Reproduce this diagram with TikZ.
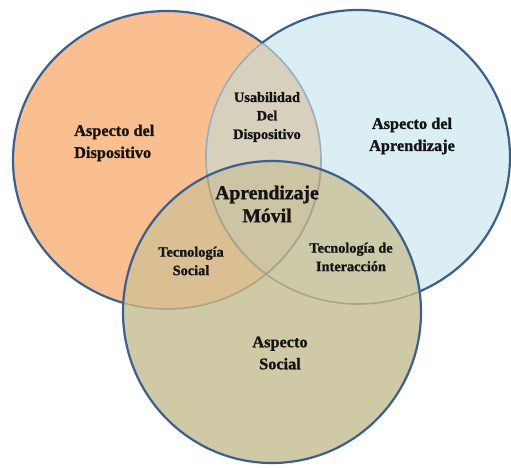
\documentclass[tikz,border=0pt]{standalone}
\usepackage{fontspec}
\setmainfont{Liberation Serif}[BoldFeatures={FakeBold=1.2}]
\definecolor{orng}{HTML}{F9BF90}
\definecolor{lblue}{HTML}{DAEEF3}
\definecolor{tanc}{HTML}{CFC9A6}
\definecolor{lrc}{HTML}{D6D0BD}
\definecolor{lbc}{HTML}{D9BF91}
\definecolor{rbc}{HTML}{CDCAAA}
\definecolor{lrbc}{HTML}{CCC4A3}
\definecolor{edgec}{HTML}{3B5F8E}
\definecolor{edgeblue}{HTML}{98AEBE}
\definecolor{edgetan}{HTML}{ADA385}
\definecolor{txt}{HTML}{141414}
\begin{document}
\begin{tikzpicture}[x=1pt,y=-1pt,
  dark/.style={draw=edgec,line width=2.2pt},
  inner1/.style={draw=edgeblue,line width=1.6pt},
  inner2/.style={draw=edgetan,line width=1.6pt},
  lbl/.style={font=\bfseries\fontsize{16.3}{22}\selectfont,inner sep=0pt,text=txt},
  small/.style={font=\bfseries\fontsize{14.3}{18.5}\selectfont,inner sep=0pt,text=txt,align=center},
  big/.style={font=\bfseries\fontsize{19.7}{23}\selectfont,inner sep=0pt,text=txt,align=center}]
\useasboundingbox (0,0) rectangle (511,467);
\def\Lpath{(167,160) ellipse [x radius=154pt, y radius=149pt]}
\def\Rpath{(358,157) ellipse [x radius=152pt, y radius=147pt]}
\def\Bpath{(272,312) ellipse [x radius=149pt, y radius=151pt]}
\def\Outer{(-50,-50) -- (600,-50) -- (600,550) -- (-50,550) -- cycle}
% fills
\fill[orng] \Lpath;
\fill[lblue] \Rpath;
\fill[tanc] \Bpath;
\begin{scope}\clip \Lpath; \fill[lrc] \Rpath; \end{scope}
\begin{scope}\clip \Lpath; \fill[lbc] \Bpath; \end{scope}
\begin{scope}\clip \Rpath; \fill[rbc] \Bpath; \end{scope}
\begin{scope}\clip \Lpath; \clip \Rpath; \fill[lrbc] \Bpath; \end{scope}
% inner light borders
\begin{scope}\clip \Rpath; \path[inner1] \Lpath; \end{scope}
\begin{scope}\clip \Lpath; \path[inner1] \Rpath; \end{scope}
\begin{scope}\clip \Bpath; \path[inner2] \Lpath; \path[inner2] \Rpath; \end{scope}
% outer dark borders
\begin{scope}\clip \Outer \Rpath; \clip \Outer \Bpath; \path[dark] \Lpath; \end{scope}
\begin{scope}\clip \Outer \Lpath; \clip \Outer \Bpath; \path[dark] \Rpath; \end{scope}
\path[dark] \Bpath;
% labels
\node[lbl,align=left,anchor=west] (dev) at (74,143) {Aspecto del\\Dispositivo};
\node[lbl,align=center] (apr) at (412,136) {Aspecto del\\Aprendizaje};
\node[small] (usa) at (267,117) {Usabilidad\\Del\\Dispositivo};
\node[big] (mov) at (267,204) {Aprendizaje\\Móvil};
\node[small] (tsoc) at (191,261) {Tecnología\\Social};
\node[small] (tint) at (351,257) {Tecnología de\\Interacción};
\node[lbl,align=center] (soc) at (280,353) {Aspecto\\Social};
\end{tikzpicture}
\end{document}
